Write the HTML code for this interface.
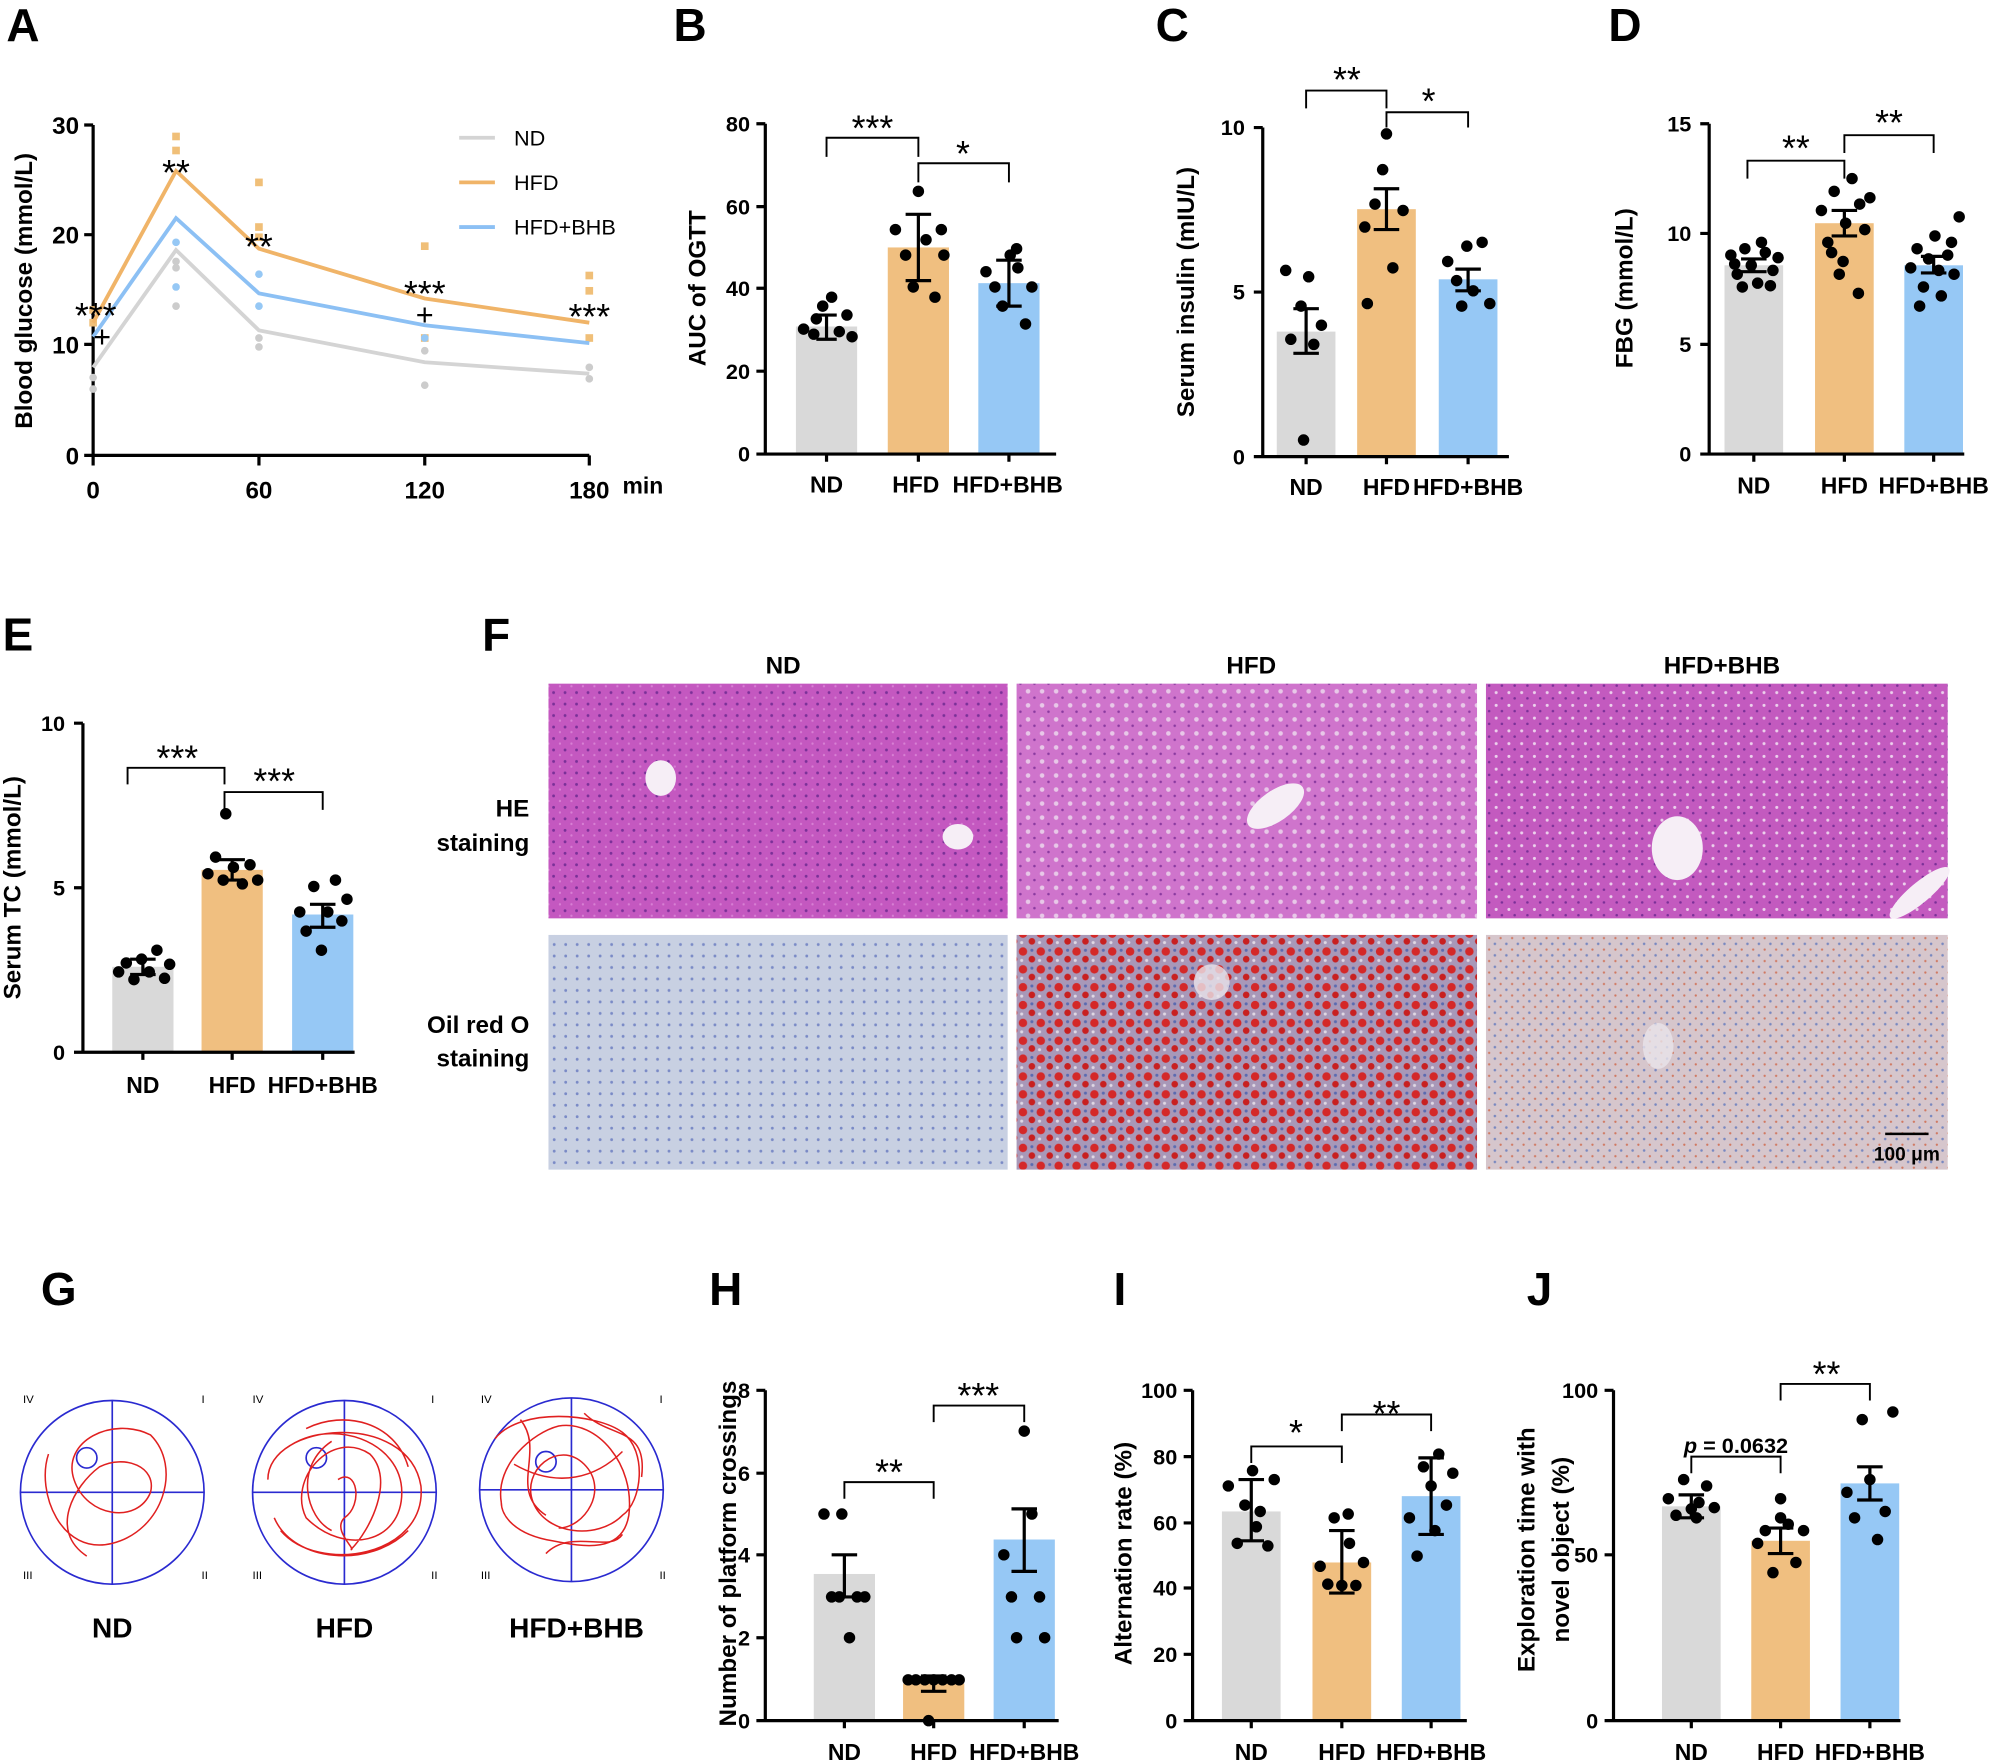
<!DOCTYPE html>
<html><head><meta charset="utf-8"><style>
html,body{margin:0;padding:0;background:#fff}
svg{display:block}
text{font-family:"Liberation Sans",Arial,sans-serif;fill:#000}
.b{font-weight:bold}
.t text{font-weight:bold}
.s text{font-size:28px}
</style></head><body>
<svg width="2000" height="1764" viewBox="0 0 1568 1383" xmlns="http://www.w3.org/2000/svg">
<defs>
<pattern id="he" width="9" height="9" patternUnits="userSpaceOnUse">
<rect width="9" height="9" fill="#c458c0"/>
<circle cx="2" cy="3" r="1.1" fill="#7a3098"/><circle cx="7" cy="7" r="0.9" fill="#d880d4"/>
</pattern>
<pattern id="he2" width="11" height="11" patternUnits="userSpaceOnUse">
<rect width="11" height="11" fill="#cf74cc"/>
<circle cx="3" cy="3" r="1.8" fill="#e8c8e8"/><circle cx="8" cy="8" r="1" fill="#8a3aa0"/>
</pattern>
<pattern id="he3" width="10" height="10" patternUnits="userSpaceOnUse">
<rect width="10" height="10" fill="#c35abf"/>
<circle cx="3" cy="3" r="1.2" fill="#ecd0ec"/><circle cx="7.5" cy="7.5" r="1" fill="#7a3098"/>
</pattern>
<pattern id="o1" width="9" height="9" patternUnits="userSpaceOnUse">
<rect width="9" height="9" fill="#c8d0e2"/>
<circle cx="2.5" cy="2.5" r="1.1" fill="#7a8ac6"/>
</pattern>
<pattern id="o2" width="14" height="14" patternUnits="userSpaceOnUse">
<rect width="14" height="14" fill="#a898b8"/>
<circle cx="4" cy="4" r="3.3" fill="#d42828"/><circle cx="11" cy="10" r="2.6" fill="#c82020"/>
<circle cx="11" cy="3" r="1.2" fill="#5a6ab0"/><circle cx="3" cy="11" r="1.2" fill="#e0d8e4"/>
</pattern>
<pattern id="o3" width="9" height="9" patternUnits="userSpaceOnUse">
<rect width="9" height="9" fill="#d6c6cc"/>
<circle cx="2" cy="2" r="1" fill="#7888c0"/><circle cx="6.5" cy="6.5" r="0.9" fill="#d07860"/>
</pattern>
</defs>

<!-- panel letters -->
<g font-size="36" font-weight="bold">
<text x="5" y="32">A</text><text x="528" y="32">B</text>
<text x="906" y="32">C</text><text x="1261" y="32">D</text>
<text x="2" y="510">E</text><text x="378" y="510">F</text>
<text x="32" y="1023">G</text><text x="556" y="1023">H</text>
<text x="873" y="1023">I</text><text x="1197" y="1023">J</text>
</g>

<!-- Panel A -->
<g stroke="#000" stroke-width="2.5" fill="none">
<path d="M73 98V357H462"/>
<path d="M66 98H73M66 184H73M66 270H73M66 357H73M73 357V365M203 357V365M333 357V365M462 357V365"/>
</g>
<g font-size="19" font-weight="bold" text-anchor="end">
<text x="62" y="105">30</text><text x="62" y="191">20</text><text x="62" y="277">10</text><text x="62" y="364">0</text>
</g>
<g font-size="19" font-weight="bold" text-anchor="middle">
<text x="73" y="391">0</text><text x="203" y="391">60</text><text x="333" y="391">120</text><text x="462" y="391">180</text>
</g>
<text x="488" y="387" font-size="18" font-weight="bold">min</text>
<text transform="translate(25,228) rotate(-90)" text-anchor="middle" font-size="19" font-weight="bold">Blood glucose (mmol/L)</text>
<g fill="#ccc"><circle cx="73" cy="296" r="3"/><circle cx="73" cy="305" r="3"/><circle cx="138" cy="210" r="3"/><circle cx="138" cy="240" r="3"/><circle cx="138" cy="205" r="3"/><circle cx="203" cy="265" r="3"/><circle cx="203" cy="272" r="3"/><circle cx="333" cy="302" r="3"/><circle cx="333" cy="275" r="3"/><circle cx="462" cy="288" r="3"/><circle cx="462" cy="297" r="3"/></g>
<g fill="#f0bf78"><rect x="70" y="240" width="6" height="6"/><rect x="70" y="250" width="6" height="6"/><rect x="135" y="104" width="6" height="6"/><rect x="135" y="115" width="6" height="6"/><rect x="200" y="140" width="6" height="6"/><rect x="200" y="175" width="6" height="6"/><rect x="200" y="183" width="6" height="6"/><rect x="330" y="190" width="6" height="6"/><rect x="330" y="262" width="6" height="6"/><rect x="459" y="213" width="6" height="6"/><rect x="459" y="225" width="6" height="6"/><rect x="459" y="262" width="6" height="6"/></g>
<g fill="#96c8f5"><circle cx="138" cy="190" r="3"/><circle cx="138" cy="225" r="3"/><circle cx="203" cy="215" r="3"/><circle cx="203" cy="240" r="3"/><circle cx="333" cy="265" r="3"/></g>
<g fill="none" stroke-width="3">
<polyline stroke="#d4d4d4" points="73,288 138,196 203,259 333,284 462,293"/>
<polyline stroke="#f0b468" points="73,253 138,134 203,195 333,234 462,253"/>
<polyline stroke="#8cc0f4" points="73,264 138,171 203,230 333,255 462,269"/>
</g>
<g font-size="28" text-anchor="middle">
<text x="75" y="257">***</text><text x="138" y="145">**</text><text x="203" y="203">**</text><text x="333" y="240">***</text><text x="462" y="258">***</text>
</g>
<g font-size="24" text-anchor="middle"><text x="80" y="272">+</text><text x="333" y="255">+</text></g>
<g stroke-width="3"><line x1="360" y1="108" x2="388" y2="108" stroke="#d4d4d4"/><line x1="360" y1="143" x2="388" y2="143" stroke="#f0b468"/><line x1="360" y1="178" x2="388" y2="178" stroke="#8cc0f4"/></g>
<g font-size="17"><text x="403" y="114">ND</text><text x="403" y="149">HFD</text><text x="403" y="184">HFD+BHB</text></g>

<!-- Panel B -->
<rect x="624" y="256" width="48" height="100" fill="#d9d9d9"/>
<rect x="696" y="194" width="48" height="162" fill="#f0bf80"/>
<rect x="767" y="222" width="48" height="134" fill="#96c8f5"/>
<g stroke="#000" stroke-width="2.5" fill="none">
<path d="M600 97V356H828M593 97H600M593 162H600M593 226H600M593 291H600M593 356H600"/>
<path d="M648 356V362M720 356V362M791 356V362"/>
<path d="M648 247V266M640 247H656M640 266H656M720 168V220M710 168H730M710 220H730M791 204V240M781 204H801M781 240H801"/>
<path d="M648 123V108H720V123M720 143V128H791V143" stroke-width="1.5"/>
</g>
<g fill="#000"><circle cx="630" cy="258" r="4.5"/><circle cx="638" cy="262" r="4.5"/><circle cx="645" cy="240" r="4.5"/><circle cx="652" cy="233" r="4.5"/><circle cx="658" cy="260" r="4.5"/><circle cx="664" cy="247" r="4.5"/><circle cx="668" cy="264" r="4.5"/><circle cx="640" cy="250" r="4.5"/>
<circle cx="702" cy="180" r="4.5"/><circle cx="710" cy="200" r="4.5"/><circle cx="716" cy="225" r="4.5"/><circle cx="720" cy="150" r="4.5"/><circle cx="726" cy="188" r="4.5"/><circle cx="733" cy="233" r="4.5"/><circle cx="738" cy="180" r="4.5"/><circle cx="740" cy="200" r="4.5"/>
<circle cx="773" cy="213" r="4.5"/><circle cx="780" cy="225" r="4.5"/><circle cx="786" cy="240" r="4.5"/><circle cx="792" cy="200" r="4.5"/><circle cx="798" cy="210" r="4.5"/><circle cx="804" cy="254" r="4.5"/><circle cx="809" cy="225" r="4.5"/><circle cx="797" cy="195" r="4.5"/></g>
<g font-size="17" font-weight="bold" text-anchor="end"><text x="588" y="103">80</text><text x="588" y="168">60</text><text x="588" y="232">40</text><text x="588" y="297">20</text><text x="588" y="362">0</text></g>
<g font-size="28" text-anchor="middle"><text x="684" y="110">***</text><text x="755" y="130">*</text></g>
<g font-size="18" font-weight="bold" text-anchor="middle"><text x="648" y="386">ND</text><text x="718" y="386">HFD</text><text x="790" y="386">HFD+BHB</text></g>
<text transform="translate(553,226) rotate(-90)" text-anchor="middle" font-size="19" font-weight="bold">AUC of OGTT</text>

<!-- Panel C -->
<rect x="1001" y="260" width="46" height="98" fill="#d9d9d9"/>
<rect x="1064" y="164" width="46" height="194" fill="#f0bf80"/>
<rect x="1128" y="219" width="46" height="139" fill="#96c8f5"/>
<g stroke="#000" stroke-width="2.5" fill="none">
<path d="M990 100V358H1183M983 100H990M983 229H990M983 358H990"/>
<path d="M1024 358V364M1087 358V364M1151 358V364"/>
<path d="M1024 242V277M1014 242H1034M1014 277H1034M1087 148V180M1077 148H1097M1077 180H1097M1151 211V228M1141 211H1161M1141 228H1161"/>
<path d="M1024 85V71H1087V85M1087 100V88H1151V100" stroke-width="1.5"/>
</g>
<g fill="#000"><circle cx="1008" cy="212" r="4.5"/><circle cx="1020" cy="240" r="4.5"/><circle cx="1026" cy="217" r="4.5"/><circle cx="1030" cy="270" r="4.5"/><circle cx="1012" cy="266" r="4.5"/><circle cx="1022" cy="345" r="4.5"/><circle cx="1036" cy="255" r="4.5"/>
<circle cx="1070" cy="178" r="4.5"/><circle cx="1078" cy="160" r="4.5"/><circle cx="1084" cy="133" r="4.5"/><circle cx="1087" cy="105" r="4.5"/><circle cx="1092" cy="210" r="4.5"/><circle cx="1100" cy="165" r="4.5"/><circle cx="1072" cy="238" r="4.5"/>
<circle cx="1135" cy="205" r="4.5"/><circle cx="1142" cy="220" r="4.5"/><circle cx="1150" cy="193" r="4.5"/><circle cx="1155" cy="228" r="4.5"/><circle cx="1162" cy="190" r="4.5"/><circle cx="1168" cy="238" r="4.5"/><circle cx="1146" cy="240" r="4.5"/></g>
<g font-size="17" font-weight="bold" text-anchor="end"><text x="976" y="106">10</text><text x="976" y="235">5</text><text x="976" y="364">0</text></g>
<g font-size="28" text-anchor="middle"><text x="1056" y="72">**</text><text x="1120" y="89">*</text></g>
<g font-size="18" font-weight="bold" text-anchor="middle"><text x="1024" y="388">ND</text><text x="1087" y="388">HFD</text><text x="1151" y="388">HFD+BHB</text></g>
<text transform="translate(936,229) rotate(-90)" text-anchor="middle" font-size="19" font-weight="bold">Serum insulin (mIU/L)</text>

<!-- Panel D -->
<rect x="1352" y="208" width="46" height="148" fill="#d9d9d9"/>
<rect x="1423" y="175" width="46" height="181" fill="#f0bf80"/>
<rect x="1493" y="208" width="46" height="148" fill="#96c8f5"/>
<g stroke="#000" stroke-width="2.5" fill="none">
<path d="M1340 97V356H1540M1333 97H1340M1333 183H1340M1333 270H1340M1333 356H1340"/>
<path d="M1375 356V362M1446 356V362M1516 356V362"/>
<path d="M1375 203V213M1365 203H1385M1365 213H1385M1446 165V185M1436 165H1456M1436 185H1456M1516 201V214M1506 201H1526M1506 214H1526"/>
<path d="M1370 140V126H1446V140M1446 120V106H1516V120" stroke-width="1.5"/>
</g>
<g fill="#000"><circle cx="1357" cy="200" r="4.5"/><circle cx="1362" cy="215" r="4.5"/><circle cx="1368" cy="195" r="4.5"/><circle cx="1373" cy="208" r="4.5"/><circle cx="1378" cy="222" r="4.5"/><circle cx="1384" cy="198" r="4.5"/><circle cx="1390" cy="212" r="4.5"/><circle cx="1394" cy="202" r="4.5"/><circle cx="1366" cy="225" r="4.5"/><circle cx="1381" cy="190" r="4.5"/><circle cx="1388" cy="224" r="4.5"/><circle cx="1360" cy="207" r="4.5"/>
<circle cx="1428" cy="165" r="4.5"/><circle cx="1433" cy="190" r="4.5"/><circle cx="1438" cy="150" r="4.5"/><circle cx="1442" cy="215" r="4.5"/><circle cx="1447" cy="175" r="4.5"/><circle cx="1452" cy="140" r="4.5"/><circle cx="1457" cy="230" r="4.5"/><circle cx="1462" cy="180" r="4.5"/><circle cx="1466" cy="155" r="4.5"/><circle cx="1436" cy="198" r="4.5"/><circle cx="1458" cy="160" r="4.5"/><circle cx="1445" cy="205" r="4.5"/>
<circle cx="1498" cy="210" r="4.5"/><circle cx="1503" cy="195" r="4.5"/><circle cx="1508" cy="225" r="4.5"/><circle cx="1512" cy="203" r="4.5"/><circle cx="1517" cy="185" r="4.5"/><circle cx="1522" cy="232" r="4.5"/><circle cx="1527" cy="200" r="4.5"/><circle cx="1532" cy="215" r="4.5"/><circle cx="1536" cy="170" r="4.5"/><circle cx="1505" cy="240" r="4.5"/><circle cx="1520" cy="212" r="4.5"/><circle cx="1530" cy="190" r="4.5"/></g>
<g font-size="17" font-weight="bold" text-anchor="end"><text x="1326" y="103">15</text><text x="1326" y="189">10</text><text x="1326" y="276">5</text><text x="1326" y="362">0</text></g>
<g font-size="28" text-anchor="middle"><text x="1408" y="126">**</text><text x="1481" y="106">**</text></g>
<g font-size="18" font-weight="bold" text-anchor="middle"><text x="1375" y="387">ND</text><text x="1446" y="387">HFD</text><text x="1516" y="387">HFD+BHB</text></g>
<text transform="translate(1280,226) rotate(-90)" text-anchor="middle" font-size="19" font-weight="bold">FBG (mmol/L)</text>

<!-- Panel E -->
<rect x="88" y="758" width="48" height="67" fill="#d9d9d9"/>
<rect x="158" y="682" width="48" height="143" fill="#f0bf80"/>
<rect x="229" y="717" width="48" height="108" fill="#96c8f5"/>
<g stroke="#000" stroke-width="2.5" fill="none">
<path d="M65 567V825H278M58 567H65M58 696H65M58 825H65"/>
<path d="M112 825V831M182 825V831M253 825V831"/>
<path d="M112 752V764M102 752H122M102 764H122M182 674V690M172 674H192M172 690H192M253 709V727M243 709H263M243 727H263"/>
<path d="M100 615V602H176V615M176 635V621H253V635" stroke-width="1.5"/>
</g>
<g fill="#000"><circle cx="93" cy="762" r="4.5"/><circle cx="99" cy="755" r="4.5"/><circle cx="105" cy="768" r="4.5"/><circle cx="111" cy="752" r="4.5"/><circle cx="117" cy="762" r="4.5"/><circle cx="123" cy="745" r="4.5"/><circle cx="129" cy="767" r="4.5"/><circle cx="133" cy="756" r="4.5"/>
<circle cx="163" cy="685" r="4.5"/><circle cx="169" cy="672" r="4.5"/><circle cx="175" cy="690" r="4.5"/><circle cx="177" cy="638" r="4.5"/><circle cx="183" cy="680" r="4.5"/><circle cx="190" cy="693" r="4.5"/><circle cx="196" cy="678" r="4.5"/><circle cx="202" cy="690" r="4.5"/>
<circle cx="235" cy="715" r="4.5"/><circle cx="240" cy="730" r="4.5"/><circle cx="246" cy="695" r="4.5"/><circle cx="252" cy="745" r="4.5"/><circle cx="257" cy="715" r="4.5"/><circle cx="263" cy="690" r="4.5"/><circle cx="268" cy="722" r="4.5"/><circle cx="272" cy="705" r="4.5"/></g>
<g font-size="17" font-weight="bold" text-anchor="end"><text x="51" y="573">10</text><text x="51" y="702">5</text><text x="51" y="831">0</text></g>
<g font-size="28" text-anchor="middle"><text x="139" y="604">***</text><text x="215" y="622">***</text></g>
<g font-size="18" font-weight="bold" text-anchor="middle"><text x="112" y="857">ND</text><text x="182" y="857">HFD</text><text x="253" y="857">HFD+BHB</text></g>
<text transform="translate(16,696) rotate(-90)" text-anchor="middle" font-size="19" font-weight="bold">Serum TC (mmol/L)</text>

<!-- Panel F -->
<g font-size="19" font-weight="bold" text-anchor="middle"><text x="614" y="528">ND</text><text x="981" y="528">HFD</text><text x="1350" y="528">HFD+BHB</text></g>
<g font-size="19" font-weight="bold" text-anchor="end"><text x="415" y="640">HE</text><text x="415" y="667">staining</text><text x="415" y="810">Oil red O</text><text x="415" y="836">staining</text></g>
<rect x="430" y="536" width="360" height="184" fill="url(#he)"/>
<rect x="797" y="536" width="361" height="184" fill="url(#he2)"/>
<rect x="1165" y="536" width="362" height="184" fill="url(#he3)"/>
<rect x="430" y="733" width="360" height="184" fill="url(#o1)"/>
<rect x="797" y="733" width="361" height="184" fill="url(#o2)"/>
<rect x="1165" y="733" width="362" height="184" fill="url(#o3)"/>
<g fill="#f6eef6"><ellipse cx="518" cy="610" rx="12" ry="14"/><ellipse cx="751" cy="656" rx="12" ry="10"/><ellipse cx="1000" cy="632" rx="26" ry="12" transform="rotate(-35 1000 632)"/><ellipse cx="1315" cy="665" rx="20" ry="25"/><ellipse cx="1505" cy="700" rx="30" ry="8" transform="rotate(-40 1505 700)"/></g>
<g fill="#e8e4ea" opacity="0.8"><ellipse cx="950" cy="770" rx="14" ry="14"/><ellipse cx="1300" cy="820" rx="12" ry="18"/></g>
<path d="M1478 889H1512" stroke="#000" stroke-width="2"/>
<text x="1495" y="910" font-size="15" font-weight="bold" text-anchor="middle">100 μm</text>

<!-- Panel G -->
<g fill="none">
<g transform="translate(88,1170)">
<circle r="72" stroke="#2a2ad0" stroke-width="1.3"/><path d="M-72 0H72M0 -72V72" stroke="#2a2ad0" stroke-width="1.3"/>
<circle cx="-20" cy="-27" r="8" stroke="#2a2ad0" stroke-width="1.3"/>
<path d="M-50 -30C-60 0 -40 50 0 40 40 30 55 -20 30 -45 0 -60 -40 -40 -30 -10 -20 20 20 25 30 0 35 -20 10 -30 -10 -20 -30 -5 -50 30 -20 50 10 55 30 40 M-55 10C-30 -50 40 -50 45 10 50 50 0 60 -45 30 M-40 -45C-10 -55 20 -30 -5 -5 -25 15 -45 5 -50 -10 M20 -50C50 -30 60 10 40 30 20 50 -10 20 -30 45" stroke="#e02020" stroke-width="1.2"/>
</g>
<g transform="translate(270,1170)">
<circle r="72" stroke="#2a2ad0" stroke-width="1.3"/><path d="M-72 0H72M0 -72V72" stroke="#2a2ad0" stroke-width="1.3"/>
<circle cx="-22" cy="-27" r="8" stroke="#2a2ad0" stroke-width="1.3"/>
<path d="M-60 -10C-60 -55 50 -65 60 -5 65 50 -20 65 -50 30 M-45 -35C-10 -60 45 -40 45 0 45 40 0 50 -30 20 -45 -10 -10 -50 20 -30 40 -10 20 30 5 45 M-5 -10C10 -20 15 10 0 20 -10 30 10 45 5 45 M-30 -50C0 -65 40 -55 50 -20 M-55 20C-40 55 20 60 50 30 M-10 -40C-40 -20 -30 20 -10 30" stroke="#e02020" stroke-width="1.2"/>
</g>
<g transform="translate(448,1168)">
<circle r="72" stroke="#2a2ad0" stroke-width="1.3"/><path d="M-72 0H72M0 -72V72" stroke="#2a2ad0" stroke-width="1.3"/>
<circle cx="-20" cy="-22" r="8" stroke="#2a2ad0" stroke-width="1.3"/>
<path d="M-60 -40C-40 -65 20 -60 40 -45 60 -30 55 10 40 20 20 40 -20 35 -30 10 -40 -15 -10 -40 10 -20 30 0 10 30 -10 30 M-55 10C-60 -20 -30 -45 -10 -50 20 -55 50 -20 45 20 40 50 10 45 -15 40 -45 35 -55 20 -55 10 M-40 -55C-20 -30 -50 0 -20 20 M10 -60C30 -40 60 -50 55 -10 M-45 -20C-10 0 20 -10 40 -30 M-20 50C0 30 30 50 40 35" stroke="#e02020" stroke-width="1.2"/>
</g>
</g>
<g font-size="9" fill="#2a2ad0"><text x="18" y="1100" fill="#2a2ad0">IV</text><text x="158" y="1100" fill="#2a2ad0">I</text><text x="18" y="1238" fill="#2a2ad0">III</text><text x="158" y="1238" fill="#2a2ad0">II</text>
<text x="198" y="1100" fill="#2a2ad0">IV</text><text x="338" y="1100" fill="#2a2ad0">I</text><text x="198" y="1238" fill="#2a2ad0">III</text><text x="338" y="1238" fill="#2a2ad0">II</text>
<text x="377" y="1100" fill="#2a2ad0">IV</text><text x="517" y="1100" fill="#2a2ad0">I</text><text x="377" y="1238" fill="#2a2ad0">III</text><text x="517" y="1238" fill="#2a2ad0">II</text></g>
<g font-size="22" font-weight="bold" text-anchor="middle"><text x="88" y="1284">ND</text><text x="270" y="1284">HFD</text><text x="452" y="1284">HFD+BHB</text></g>

<!-- Panel H -->
<rect x="638" y="1234" width="48" height="115" fill="#d9d9d9"/>
<rect x="708" y="1320" width="48" height="29" fill="#f0bf80"/>
<rect x="779" y="1207" width="48" height="142" fill="#96c8f5"/>
<g stroke="#000" stroke-width="2.5" fill="none">
<path d="M600 1090V1349H830M593 1090H600M593 1155H600M593 1219H600M593 1284H600M593 1349H600"/>
<path d="M662 1349V1355M732 1349V1355M803 1349V1355"/>
<path d="M662 1219V1252M652 1219H672M652 1252H672M732 1314V1326M722 1314H742M722 1326H742M803 1183V1232M793 1183H813M793 1232H813"/>
<path d="M662 1175V1162H732V1175M732 1115V1102H803V1115" stroke-width="1.5"/>
</g>
<g fill="#000"><circle cx="646" cy="1187" r="4.5"/><circle cx="660" cy="1187" r="4.5"/><circle cx="652" cy="1252" r="4.5"/><circle cx="666" cy="1284" r="4.5"/><circle cx="672" cy="1252" r="4.5"/><circle cx="678" cy="1252" r="4.5"/><circle cx="658" cy="1252" r="4.5"/>
<circle cx="712" cy="1317" r="4.5"/><circle cx="718" cy="1317" r="4.5"/><circle cx="725" cy="1317" r="4.5"/><circle cx="732" cy="1317" r="4.5"/><circle cx="739" cy="1317" r="4.5"/><circle cx="746" cy="1317" r="4.5"/><circle cx="752" cy="1317" r="4.5"/><circle cx="728" cy="1349" r="4.5"/>
<circle cx="787" cy="1219" r="4.5"/><circle cx="793" cy="1252" r="4.5"/><circle cx="797" cy="1284" r="4.5"/><circle cx="803" cy="1122" r="4.5"/><circle cx="809" cy="1187" r="4.5"/><circle cx="815" cy="1252" r="4.5"/><circle cx="819" cy="1284" r="4.5"/></g>
<g font-size="17" font-weight="bold" text-anchor="end"><text x="588" y="1096">8</text><text x="588" y="1161">6</text><text x="588" y="1225">4</text><text x="588" y="1290">2</text><text x="588" y="1355">0</text></g>
<g font-size="28" text-anchor="middle"><text x="697" y="1164">**</text><text x="767" y="1104">***</text></g>
<g font-size="18" font-weight="bold" text-anchor="middle"><text x="662" y="1380">ND</text><text x="732" y="1380">HFD</text><text x="803" y="1380">HFD+BHB</text></g>
<text transform="translate(577,1218) rotate(-90)" text-anchor="middle" font-size="19" font-weight="bold">Number of platform crossings</text>

<!-- Panel I -->
<rect x="958" y="1185" width="46" height="164" fill="#d9d9d9"/>
<rect x="1029" y="1225" width="46" height="124" fill="#f0bf80"/>
<rect x="1099" y="1173" width="46" height="176" fill="#96c8f5"/>
<g stroke="#000" stroke-width="2.5" fill="none">
<path d="M935 1090V1349H1150M928 1090H935M928 1142H935M928 1194H935M928 1245H935M928 1297H935M928 1349H935"/>
<path d="M981 1349V1355M1052 1349V1355M1122 1349V1355"/>
<path d="M981 1160V1208M971 1160H991M971 1208H991M1052 1200V1249M1042 1200H1062M1042 1249H1062M1122 1143V1203M1112 1143H1132M1112 1203H1132"/>
<path d="M981 1147V1134H1052V1147M1052 1122V1109H1122V1122" stroke-width="1.5"/>
</g>
<g fill="#000"><circle cx="963" cy="1165" r="4.5"/><circle cx="970" cy="1210" r="4.5"/><circle cx="976" cy="1180" r="4.5"/><circle cx="982" cy="1153" r="4.5"/><circle cx="988" cy="1185" r="4.5"/><circle cx="994" cy="1212" r="4.5"/><circle cx="999" cy="1160" r="4.5"/><circle cx="985" cy="1197" r="4.5"/>
<circle cx="1035" cy="1228" r="4.5"/><circle cx="1041" cy="1242" r="4.5"/><circle cx="1046" cy="1190" r="4.5"/><circle cx="1052" cy="1243" r="4.5"/><circle cx="1057" cy="1187" r="4.5"/><circle cx="1063" cy="1243" r="4.5"/><circle cx="1069" cy="1225" r="4.5"/><circle cx="1058" cy="1210" r="4.5"/>
<circle cx="1105" cy="1190" r="4.5"/><circle cx="1111" cy="1220" r="4.5"/><circle cx="1116" cy="1150" r="4.5"/><circle cx="1122" cy="1165" r="4.5"/><circle cx="1128" cy="1140" r="4.5"/><circle cx="1134" cy="1180" r="4.5"/><circle cx="1139" cy="1155" r="4.5"/><circle cx="1125" cy="1200" r="4.5"/></g>
<g font-size="17" font-weight="bold" text-anchor="end"><text x="923" y="1096">100</text><text x="923" y="1148">80</text><text x="923" y="1200">60</text><text x="923" y="1251">40</text><text x="923" y="1303">20</text><text x="923" y="1355">0</text></g>
<g font-size="28" text-anchor="middle"><text x="1016" y="1133">*</text><text x="1087" y="1118">**</text></g>
<g font-size="18" font-weight="bold" text-anchor="middle"><text x="981" y="1380">ND</text><text x="1052" y="1380">HFD</text><text x="1122" y="1380">HFD+BHB</text></g>
<text transform="translate(887,1218) rotate(-90)" text-anchor="middle" font-size="19" font-weight="bold">Alternation rate (%)</text>

<!-- Panel J -->
<rect x="1303" y="1181" width="46" height="168" fill="#d9d9d9"/>
<rect x="1373" y="1208" width="46" height="141" fill="#f0bf80"/>
<rect x="1443" y="1163" width="46" height="186" fill="#96c8f5"/>
<g stroke="#000" stroke-width="2.5" fill="none">
<path d="M1265 1090V1349H1490M1258 1090H1265M1258 1219H1265M1258 1349H1265"/>
<path d="M1326 1349V1355M1396 1349V1355M1466 1349V1355"/>
<path d="M1326 1172V1190M1316 1172H1336M1316 1190H1336M1396 1198V1218M1386 1198H1406M1386 1218H1406M1466 1150V1176M1456 1150H1476M1456 1176H1476"/>
<path d="M1326 1155V1142H1396V1155M1396 1098V1085H1466V1098" stroke-width="1.5"/>
</g>
<g fill="#000"><circle cx="1308" cy="1175" r="4.5"/><circle cx="1314" cy="1188" r="4.5"/><circle cx="1320" cy="1160" r="4.5"/><circle cx="1326" cy="1183" r="4.5"/><circle cx="1332" cy="1178" r="4.5"/><circle cx="1338" cy="1165" r="4.5"/><circle cx="1344" cy="1182" r="4.5"/><circle cx="1330" cy="1190" r="4.5"/>
<circle cx="1378" cy="1210" r="4.5"/><circle cx="1384" cy="1200" r="4.5"/><circle cx="1390" cy="1233" r="4.5"/><circle cx="1396" cy="1175" r="4.5"/><circle cx="1402" cy="1195" r="4.5"/><circle cx="1408" cy="1225" r="4.5"/><circle cx="1414" cy="1200" r="4.5"/><circle cx="1396" cy="1190" r="4.5"/>
<circle cx="1448" cy="1170" r="4.5"/><circle cx="1454" cy="1190" r="4.5"/><circle cx="1460" cy="1113" r="4.5"/><circle cx="1466" cy="1160" r="4.5"/><circle cx="1472" cy="1207" r="4.5"/><circle cx="1478" cy="1185" r="4.5"/><circle cx="1484" cy="1107" r="4.5"/></g>
<g font-size="17" font-weight="bold" text-anchor="end"><text x="1253" y="1096">100</text><text x="1253" y="1225">50</text><text x="1253" y="1355">0</text></g>
<text x="1361" y="1139" font-size="17" font-weight="bold" text-anchor="middle"><tspan font-style="italic">p</tspan> = 0.0632</text>
<text x="1432" y="1087" font-size="28" text-anchor="middle">**</text>
<g font-size="18" font-weight="bold" text-anchor="middle"><text x="1326" y="1380">ND</text><text x="1396" y="1380">HFD</text><text x="1466" y="1380">HFD+BHB</text></g>
<text transform="translate(1203,1215) rotate(-90)" text-anchor="middle" font-size="19" font-weight="bold">Exploration time with</text>
<text transform="translate(1230,1215) rotate(-90)" text-anchor="middle" font-size="19" font-weight="bold">novel object (%)</text>
</svg>
</body></html>
